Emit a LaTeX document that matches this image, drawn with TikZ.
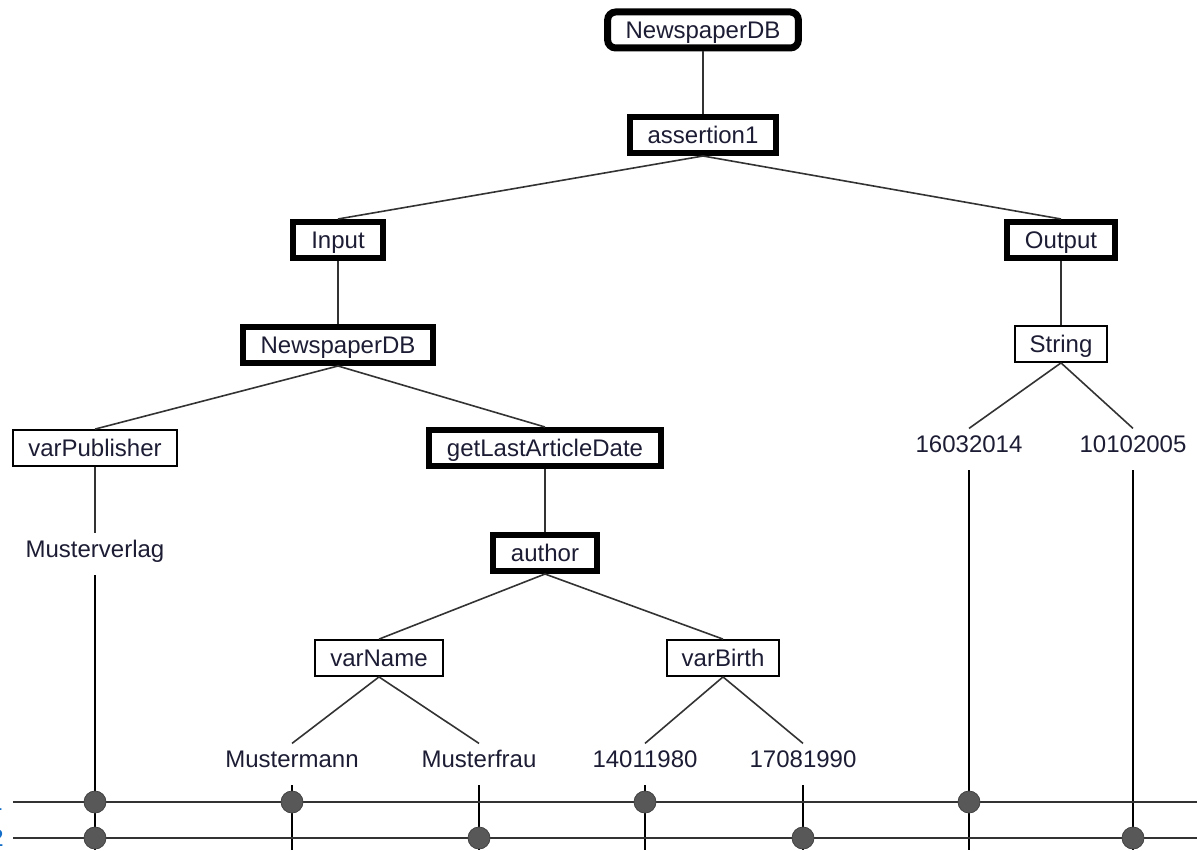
\documentclass[tikz,border=0pt]{standalone}
\usepackage{fontspec}
\setmainfont{Liberation Sans}
\usepackage{xcolor}
\usepackage{tikz}
\usetikzlibrary{calc}

\definecolor{textc}{RGB}{28,28,52}
\definecolor{linec}{RGB}{51,51,51}
\definecolor{dotc}{RGB}{88,88,88}
\definecolor{rowc}{RGB}{20,110,200}

\tikzstyle{elem} = [draw=black, line width=0.9pt, inner xsep=7.5pt, inner ysep=0pt, minimum height=18pt, text height=8.6pt, text depth=0pt, text=textc, font=\fontsize{12}{14}\selectfont]
\tikzstyle{bold elem} = [elem, line width=3pt, inner xsep=9pt]
\tikzstyle{root elem} = [bold elem, line width=3.5pt, rounded corners=4pt]
\tikzstyle{value} = [inner xsep=0pt, inner ysep=3pt, text height=8.6pt, text depth=6pt, anchor=base, text=textc, font=\fontsize{12}{14}\selectfont]
\tikzstyle{edge} = [draw=linec, line width=0.8pt]
\tikzstyle{drop} = [draw=black, line width=1pt]
\tikzstyle{bus} = [draw=linec, line width=1.1pt]
\tikzstyle{dot} = [circle, fill=dotc, draw=dotc!75!black, line width=0.4pt, inner sep=0pt, minimum size=11pt]
\tikzstyle{rowlabel} = [anchor=east, inner sep=0pt, text=rowc, font=\fontsize{12}{14}\selectfont]

\begin{document}
\begin{tikzpicture}[x=0.5pt,y=-0.5pt]
\useasboundingbox (0,0) rectangle (1202,850);

% Root and assertion
\node[root elem] (root) at (703,30) {NewspaperDB};
\node[bold elem] (assert) at (703,135) {assertion1};
\draw[edge] (root) -- (assert);

% Input / Output
\node[bold elem] (input) at (338,240) {Input};
\node[bold elem] (output) at (1061,240) {Output};
\draw[edge] (assert.south) -- (input.north);
\draw[edge] (assert.south) -- (output.north);

% Input side
\node[bold elem] (indb) at (338,345) {NewspaperDB};
\draw[edge] (input) -- (indb);
\node[elem] (publisher) at (95,448) {varPublisher};
\node[bold elem] (lastdate) at (545,448) {getLastArticleDate};
\draw[edge] (indb.south) -- (publisher.north);
\draw[edge] (indb.south) -- (lastdate.north);
\node[value] (verlag) at (95,557) {Musterverlag};
\draw[edge] (publisher) -- (verlag);
\node[bold elem] (author) at (545,553) {author};
\draw[edge] (lastdate) -- (author);

% Author parameters
\node[elem] (name) at (379,658) {varName};
\node[elem] (birth) at (723,658) {varBirth};
\draw[edge] (author.south) -- (name.north);
\draw[edge] (author.south) -- (birth.north);
\node[value] (mann) at (292,767) {Mustermann};
\node[value] (frau) at (479,767) {Musterfrau};
\node[value] (birth1) at (645,767) {14011980};
\node[value] (birth2) at (803,767) {17081990};
\draw[edge] (name.south) -- (mann.north);
\draw[edge] (name.south) -- (frau.north);
\draw[edge] (birth.south) -- (birth1.north);
\draw[edge] (birth.south) -- (birth2.north);

% Output side
\node[elem] (string) at (1061,344) {String};
\draw[edge] (output) -- (string);
\node[value] (out1) at (969,452) {16032014};
\node[value] (out2) at (1133,452) {10102005};
\draw[edge] (string.south) -- (out1.north);
\draw[edge] (string.south) -- (out2.north);

% Rows
\coordinate (row1w) at (13,802);
\coordinate (row1e) at (1197,802);
\coordinate (row2w) at (13,838);
\coordinate (row2e) at (1197,838);
\coordinate (floor) at (0,850);
\node[rowlabel] (lab1) at (3,802) {1};
\node[rowlabel] (lab2) at (4,838) {2};

% Drops down to the rows
\draw[drop] (verlag.south) -- (verlag.south |- floor);
\draw[drop] (mann.south) -- (mann.south |- floor);
\draw[drop] (frau.south) -- (frau.south |- floor);
\draw[drop] (birth1.south) -- (birth1.south |- floor);
\draw[drop] (birth2.south) -- (birth2.south |- floor);
\draw[drop] (out1.south) -- (out1.south |- floor);
\draw[drop] (out2.south) -- (out2.south |- floor);
\draw[bus] (row1w) -- (row1e);
\draw[bus] (row2w) -- (row2e);

% Hits
\node[dot] (h1) at (verlag.south |- row1w) {};
\node[dot] (h2) at (verlag.south |- row2w) {};
\node[dot] (h3) at (mann.south |- row1w) {};
\node[dot] (h4) at (frau.south |- row2w) {};
\node[dot] (h5) at (birth1.south |- row1w) {};
\node[dot] (h6) at (birth2.south |- row2w) {};
\node[dot] (h7) at (out1.south |- row1w) {};
\node[dot] (h8) at (out2.south |- row2w) {};
\end{tikzpicture}
\end{document}
